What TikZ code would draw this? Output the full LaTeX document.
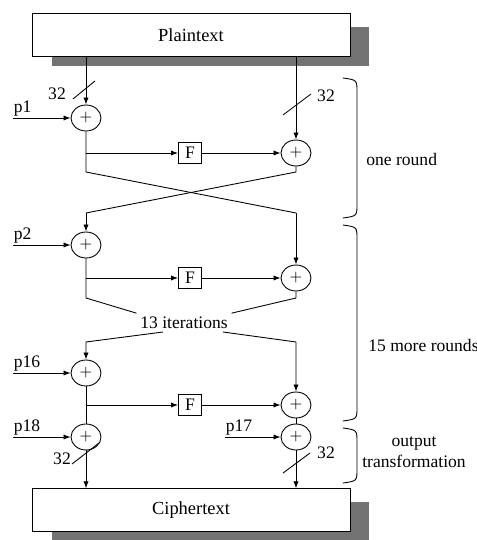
\documentclass[tikz,border=0pt]{standalone}
\usepackage{fontspec}
\setmainfont{Liberation Serif}
\usetikzlibrary{arrows.meta,shapes.geometric}
\tikzset{
  xorop/.style={draw,ellipse,minimum width=0.6cm,minimum height=0.52cm,inner sep=0pt,font=\small},
  fbox/.style={draw,minimum width=0.46cm,minimum height=0.42cm,inner sep=0pt},
  datablock/.style={draw,fill=white,minimum width=6.36cm,minimum height=0.85cm,font=\fontsize{10.5}{12}\selectfont},
  shade/.style={fill=black!55},
  >={Latex[length=4pt,width=3pt]}
}
\begin{document}
\begin{tikzpicture}[x=0.02cm,y=-0.02cm,font=\fontsize{10}{12}\selectfont,line width=0.5pt]
\useasboundingbox (0,0) rectangle (476,540);
\fill[shade] (52,27) rectangle (369,66);
\node[datablock] (plain) at (191,35) {Plaintext};
\fill[shade] (52,502) rectangle (369,540);
\node[datablock] (cipher) at (191,510) {Ciphertext};

\node[xorop] (a1) at (86,118) {$+$};
\node[xorop] (b1) at (296,153) {$+$};
\node[fbox] (f1) at (190,153) {F};
\node[xorop] (a2) at (86,245) {$+$};
\node[xorop] (b2) at (296,278) {$+$};
\node[fbox] (f2) at (190,278) {F};
\node[inner sep=2pt] (iter) at (184,323) {13 iterations};
\node[xorop] (a16) at (86,373) {$+$};
\node[xorop] (b16) at (296,405) {$+$};
\node[fbox] (f16) at (190,405) {F};
\node[xorop] (a18) at (86,437) {$+$};
\node[xorop] (b17) at (296,437) {$+$};

\coordinate (l1) at (86,172);
\coordinate (r1) at (296,172);
\coordinate (l2) at (86,213);
\coordinate (r2) at (296,213);
\coordinate (l3) at (86,298);
\coordinate (r3) at (296,298);
\coordinate (u1) at (163,332);
\coordinate (u2) at (223,332);
\coordinate (l4) at (86,342);
\coordinate (r4) at (296,342);

\draw[->] (plain.south -| a1) -- (a1);
\draw[->] (plain.south -| b1) -- (b1);
\draw (a1) -- (l1) -- (r2);
\draw (b1) -- (r1) -- (l2);
\draw[->] (r2) -- (b2);
\draw[->] (l2) -- (a2);
\draw (a2) -- (l3) -- (iter.north west);
\draw (b2) -- (r3) -- (iter.north east);
\draw[->] (u1) -- (l4) -- (a16);
\draw[->] (u2) -- (r4) -- (b16);
\draw (a16) -- (a18);
\draw (b16) -- (b17);
\draw[->] (a18) -- (cipher.north -| a18);
\draw[->] (b17) -- (cipher.north -| b17);
\foreach \f/\a/\b in {f1/a1/b1,f2/a2/b2,f16/a16/b16}{
  \draw[->] (\a |- \f) -- (\f);
  \draw[->] (\f) -- (\b);
}

\foreach \k/\lab in {a1/p1,a2/p2,a16/p16,a18/p18}
  \draw[<-] (\k.west) -- ++(-58,0) node[anchor=south west,inner sep=0.5pt] {\lab};
\draw[<-] (b17.west) -- ++(-56,0) node[anchor=south west,inner sep=0.5pt] {p17};

\draw (73,99) -- (95,81);
\node (w1) at (57,94) {32};
\draw (283,115) -- (311,94);
\node (w2) at (326,96) {32};
\draw (72,464) -- (99,443);
\node (w3) at (62,459) {32};
\draw (283,473) -- (310,453);
\node (w4) at (326,453) {32};

\foreach \t/\b in {78/218,225/421,428/483}
  \draw (343,\t) .. controls (357,\t+2) .. (357,\t+14) -- (357,\b-14) .. controls (357,\b-2) .. (343,\b);
\node[anchor=west] (one) at (360,159) {one round};
\node[anchor=west] (more) at (362,345) {15 more rounds};
\node[align=center,inner sep=0pt] (outt) at (414,452) {output\\transformation};
\end{tikzpicture}
\end{document}
